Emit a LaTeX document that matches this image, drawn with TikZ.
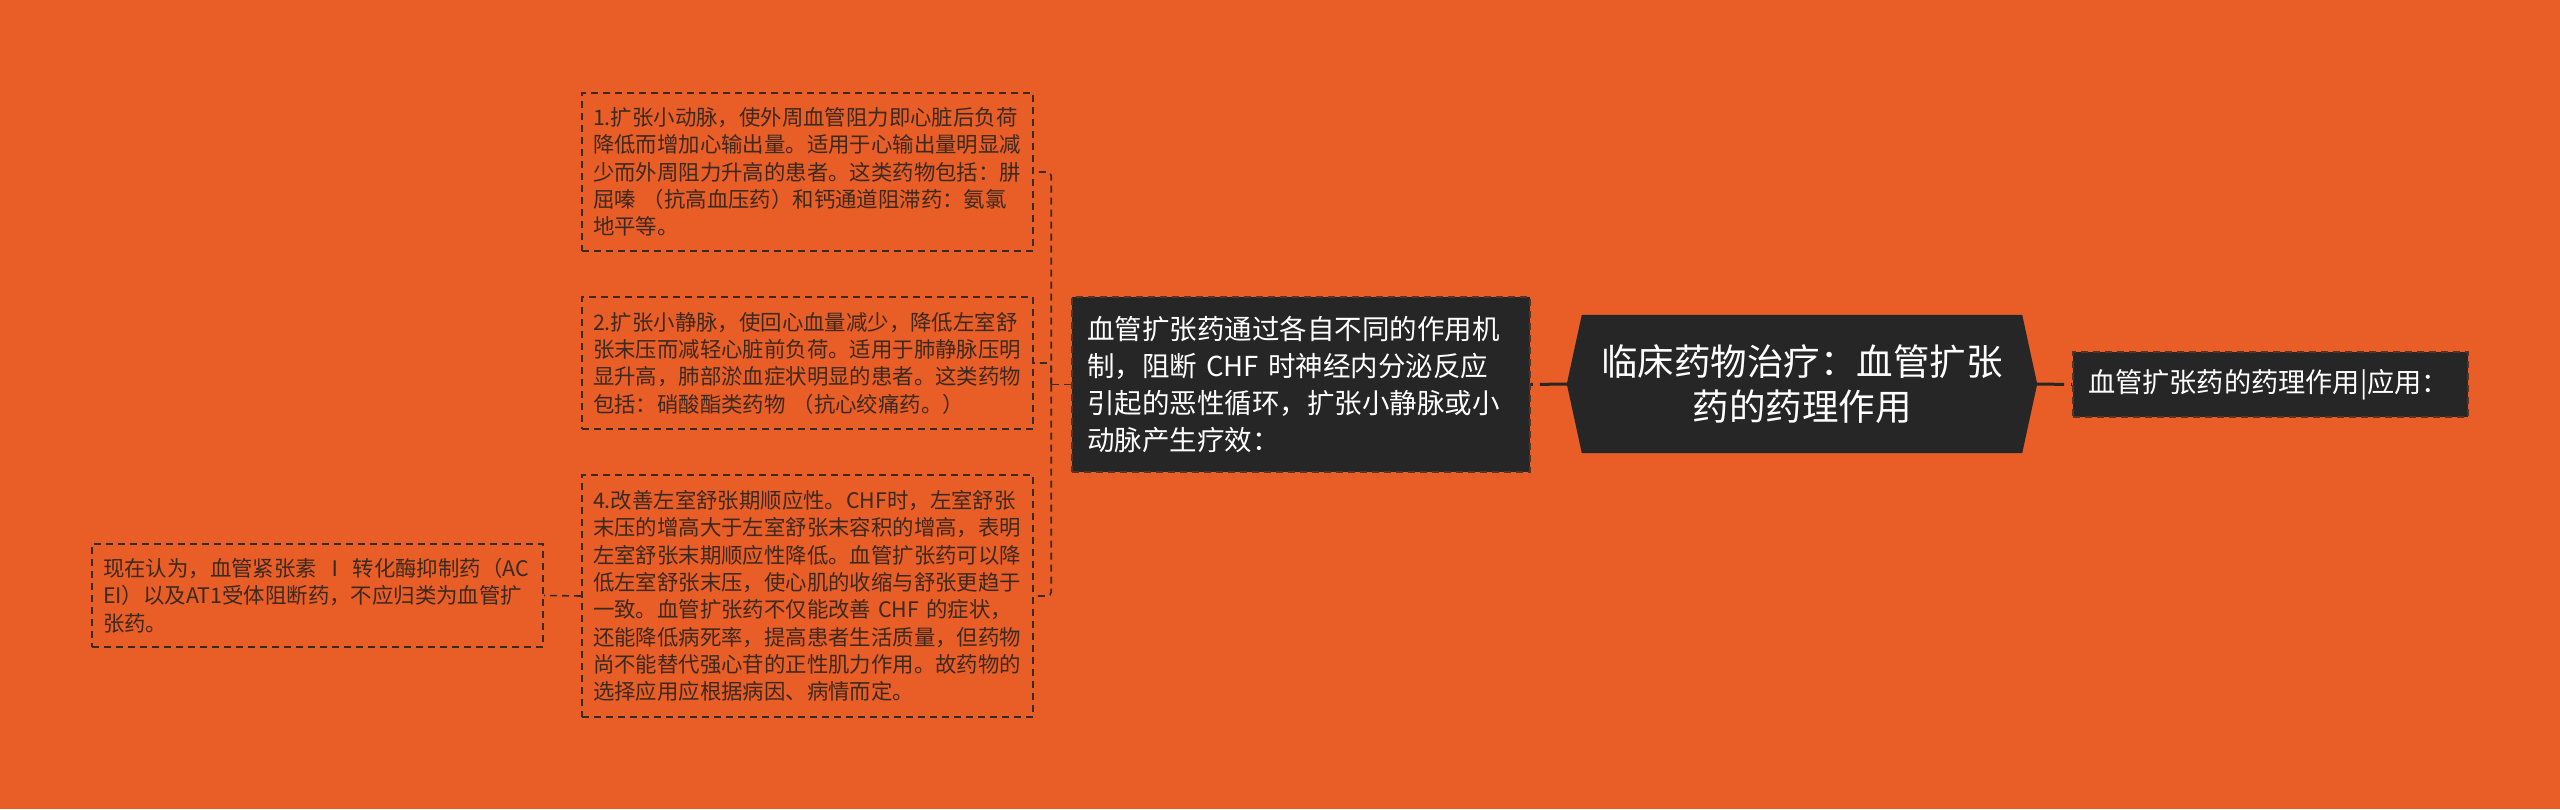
\documentclass[tikz,border=0pt]{standalone}
\usepackage{fontspec}
\setmainfont{Noto Sans CJK SC}
\usetikzlibrary{calc}
\definecolor{bgc}{HTML}{E95D27}
\definecolor{darkc}{HTML}{262626}
\definecolor{inkc}{HTML}{3A2A20}
\definecolor{linec}{HTML}{2A2522}
\pgfdeclarelayer{back}
\pgfsetlayers{back,main}
\tikzset{
  leafbox/.style={rectangle, draw=inkc, line width=1.6pt, dash pattern=on 7pt off 5pt,
    text=inkc, text width=429pt, align=left, inner xsep=11pt, inner ysep=4pt,
    font=\fontsize{21.4}{27.3}\selectfont},
  darkbox/.style={rectangle, fill=darkc, draw=darkc!75!bgc, line width=1.6pt,
    dash pattern=on 7pt off 5pt, text=white, align=left, inner ysep=4pt},
  hexnode/.style={rectangle, inner sep=0pt, text=white, align=center,
    minimum width=440pt, minimum height=138pt,
    font=\fontsize{36.5}{45}\selectfont},
  mainline/.style={draw=linec, line width=3pt, dash pattern=on 27pt off 7pt on 20pt off 1pt},
  branch/.style={draw=inkc, line width=1.6pt, dash pattern=on 7pt off 5pt, rounded corners=4pt},
}
\begin{document}
\begin{tikzpicture}[x=1pt,y=-1pt]
\begin{pgfonlayer}{back}
  \fill[bgc] (0,0) rectangle (2560,809);
\end{pgfonlayer}
\useasboundingbox (0,0) rectangle (2560,809);

% leaf boxes
\node[leafbox, minimum height=158pt] (b1) at (807.5,172)
  {1.扩张小动脉，使外周血管阻力即心脏后负荷\\降低而增加心输出量。适用于心输出量明显减\\少而外周阻力升高的患者。这类药物包括：肼\\屈嗪~（抗高血压药）和钙通道阻滞药：氨氯\\地平等。};
\node[leafbox, minimum height=132pt] (b2) at (807.5,363)
  {2.扩张小静脉，使回心血量减少，降低左室舒\\张末压而减轻心脏前负荷。适用于肺静脉压明\\显升高，肺部淤血症状明显的患者。这类药物\\包括：硝酸酯类药物~（抗心绞痛药。）};
\node[leafbox, minimum height=242pt] (b4) at (807.5,596)
  {4.改善左室舒张期顺应性。CHF时，左室舒张\\末压的增高大于左室舒张末容积的增高，表明\\左室舒张末期顺应性降低。血管扩张药可以降\\低左室舒张末压，使心肌的收缩与舒张更趋于\\一致。血管扩张药不仅能改善~CHF~的症状，\\还能降低病死率，提高患者生活质量，但药物\\尚不能替代强心苷的正性肌力作用。故药物的\\选择应用应根据病因、病情而定。};
\node[leafbox, minimum height=103pt] (lft) at (317.5,595.5)
  {现在认为，血管紧张素~Ⅰ~转化酶抑制药（AC\\EI）以及AT1受体阻断药，不应归类为血管扩\\张药。};

% middle dark box
\node[darkbox, text width=428pt, inner xsep=15pt, minimum height=175pt,
  font=\fontsize{27.5}{36.7}\selectfont] (mid) at (1301,384.5)
  {血管扩张药通过各自不同的作用机\\制，阻断~CHF~时神经内分泌反应\\引起的恶性循环，扩张小静脉或小\\动脉产生疗效：};

% central hexagon
\node[hexnode] (hex) at (1802,384) {临床药物治疗：血管扩张\\药的药理作用};
\coordinate (hexL) at ($(hex.west)+(-15,0)$);
\coordinate (hexR) at ($(hex.east)+(15,0)$);
\begin{pgfonlayer}{back}
  \fill[darkc] (hexL) -- (hex.north west) -- (hex.north east) -- (hexR)
    -- (hex.south east) -- (hex.south west) -- cycle;
\end{pgfonlayer}

% right dark box
\node[darkbox, text width=365pt, inner xsep=15pt, minimum height=65pt,
  font=\fontsize{27.2}{30}\selectfont] (rt) at (2270.5,384.5)
  {血管扩张药的药理作用|应用：};

% connectors
\draw[mainline] (hexR) -- (rt.west);
\draw[mainline] (hexL) -- (mid.east);
\coordinate (fork) at ($(mid.west)+(-20,0)$);
\draw[branch] (mid.west) -- (fork);
\draw[branch] (fork) |- (b1.east);
\draw[branch] (fork) |- (b2.east);
\draw[branch] (fork) |- (b4.east);
\draw[branch] (b4.west) -- (lft.east);
\end{tikzpicture}
\end{document}
